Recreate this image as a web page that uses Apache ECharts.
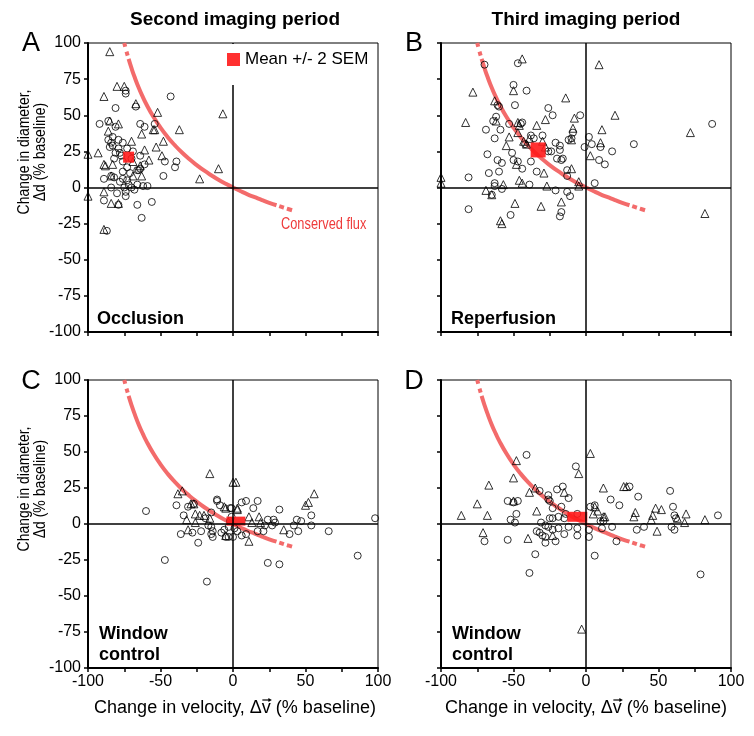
<!DOCTYPE html>
<html><head><meta charset="utf-8">
<script src="https://cdn.jsdelivr.net/npm/echarts@6/dist/echarts.min.js"></script>
<style>html,body{margin:0;padding:0;background:#fff}#c{width:754px;height:736px}</style>
</head><body><div id="c"></div>
<script>
// ---------- DATA ----------
const panelLetters = ['A','B','C','D'];
const columnTitles = ['Second imaging period','Third imaging period'];
const panelNames = ['Occlusion','Reperfusion','Window\ncontrol','Window\ncontrol'];
const yTicks = [-100,-75,-50,-25,0,25,50,75,100];
const xTicksLabelled = [-100,-50,0,50,100];
const legendLabel = 'Mean +/- 2 SEM';
const curveLabel = 'Conserved flux';
const yName = 'Change in diameter,\n\u0394d (% baseline)';
const xNameParts = ['Change in velocity, \u0394', 'v', ' (% baseline)'];

// Panel A: occlusion, second imaging period
const trianglesA = [[-85,94],[-80,70],[-75,70],[-89,63],[-67,58],[-52,52],[-7,51],[-85,46],[-79,44],[-55,40],[-54,40],[-37,40],[-86,39],[-63,37],[-48,32],[-53,28],[-70,32],[-61,26],[-93,24],[-100,23],[-49,22],[-58,19],[-69,18],[-89,16],[-88,15],[-83,16],[-64,15],[-10,13],[-63,8],[-23,6],[-69,8],[-84,8],[-89,-3],[-100,-6],[-84,-11],[-79,-11],[-89,-29]];
const circlesA = [[-43,63],[-74,67],[-74,65],[-67,56],[-81,55],[-92,44],[-86,46],[-81,42],[-64,44],[-61,42],[-54,44],[-86,33],[-84,31],[-83,29],[-85,28],[-79,27],[-76,31],[-78,24],[-73,27],[-69,25],[-81,24],[-77,22],[-64,22],[-61,16],[-64,13],[-73,14],[-76,11],[-71,10],[-39,18],[-40,14],[-47,18],[-48,8],[-66,12],[-65,12],[-84,8],[-82,7],[-89,6],[-84,0],[-76,6],[-73,5],[-72,2],[-75,0],[-70,0],[-66,2],[-62,1],[-59,1],[-68,-1.5],[-89,-9],[-80,-4],[-74,-6],[-79,-12],[-66,-12],[-56,-10],[-63,-21],[-87,-30],[-83,35],[-79,33],[-82,20],[-76,18],[-70,20],[-78,4],[-74,-3]];
const meanA = [-72,21];

// Panel B: reperfusion, third imaging period
const trianglesB = [[-44,89],[-50,67],[-78,66],[-63,60],[-14,62],[-83,45],[-62,46],[-47,45],[-46,43],[-28,47],[-8,48],[-9,41],[-34,43],[-53,35],[-47,38],[-39,34],[-55,29],[-43,32],[-41,30],[-30,32],[-28,28],[-48,16],[-29,10],[-10,13],[-46,5],[-44,3],[-100,7],[-100,3],[-69,-2],[-65,-5],[-57,2],[-27,1],[-49,-11],[-31,-13],[-17,-10],[-59,-23],[-58,-25],[-5,4],[9,85],[20,50],[11,40],[-10,33],[10,31],[3,22],[72,38],[-5,1],[82,-18]];
const circlesB = [[-70,85],[-47,86],[-50,71],[-41,67],[-61,57],[-60,56],[-49,57],[-62,49],[-64,46],[-59,40],[-69,40],[-53,44],[-44,45],[-45,44],[-63,34],[-42,30],[-38,36],[-36,34],[-30,36],[-26,55],[-23,50],[-68,23],[-61,19],[-58,17],[-51,24],[-50,19],[-47,18],[-44,13],[-38,18],[-34,11],[-60,11],[-67,10],[-81,7],[-63,3],[-63,1],[-58,-1],[-65,-5],[-52,-19],[-81,-15],[-39,2],[-26,25],[-24,25],[-21,31],[-18,29],[-18,26],[-20,20],[-17,19],[-16,20],[-13,12],[-13,8],[-12,33],[-10,34],[-9,38],[-21,-2],[-13,-3],[-11,-6],[-17,-17],[-18,-20],[-4,50],[2,35],[-1,28],[4,30],[10,28],[18,25],[33,30],[9,19],[13,16],[6,3],[87,44]];
const meanB = [-33,26];

// Panel C: window control, second imaging period
const trianglesC = [[-16,35],[0,29],[2,29],[-38,21],[-35,23],[-29,14],[-27,14],[-26,7],[-23,6],[-20,6],[-16,4],[-6,12],[-5,11],[3,11],[-32,3],[-31,-4],[-26,1],[-5,-8],[56,21],[52,15],[50,13],[3,10],[18,5],[13,1],[19,1],[35,-4],[11,-12],[11,5]];
const circlesC = [[-60,9],[-47,-25],[-39,13],[-34,6],[-31,12],[-27,14],[-11,17],[-11,16],[-9,13],[-15,8],[-19,4],[-17,-1],[-15,-2],[-14,-5],[-15,-7],[-36,-7],[-28,-6],[-22,-5],[-24,-13],[-14,-9],[-8,-6],[-6,-4],[-3,-2],[-2,2],[-1,5],[-1,11],[-5,-9],[-3,-9],[0,-9],[-18,-40],[6,15],[9,16],[17,16],[14,11],[32,10],[-2,11],[54,6],[44,3],[47,2],[24,3],[28,3],[29,1],[42,-1],[54,-1],[27,-1],[22,-1],[39,-7],[45,-5],[66,-5],[17,-5],[21,-5],[9,-7],[98,4],[86,-22],[24,-27],[32,-28],[1,-3],[3,-5],[6,-8]];
const meanC = [2,2];

// Panel D: window control, third imaging period
const trianglesD = [[-48,44],[-50,32],[-67,27],[-75,14],[-86,6],[-68,6],[-50,16],[-39,22],[-35,25],[-34,9],[-15,22],[-23,-8],[-40,-10],[-71,-6],[-5,35],[3,49],[12,25],[26,26],[28,26],[8,9],[6,12],[5,7],[12,5],[13,5],[33,5],[34,8],[48,11],[52,10],[46,6],[45,3],[63,4],[69,7],[68,1],[82,3],[49,-5],[-3,-73]];
const circlesD = [[-41,48],[-7,40],[-32,23],[-54,16],[-50,15],[-47,16],[-26,20],[-26,17],[-25,16],[-20,24],[-16,26],[-12,18],[-23,11],[-17,12],[-25,4],[-23,4],[-48,7],[-52,3],[-49,1],[-31,1],[-28,-1],[-26,-2],[-23,-4],[-19,5],[-15,4],[-14,7],[-12,-2],[-34,-5],[-32,-6],[-30,-8],[-28,-9],[-28,-13],[-21,-12],[-19,-3],[-15,-7],[-54,-11],[-70,-12],[-35,-21],[-39,-34],[-6,-8],[-6,-3],[30,26],[36,19],[17,17],[23,13],[58,23],[60,12],[61,6],[62,4],[6,13],[3,12],[-6,7],[10,2],[12,2],[18,-2],[11,-3],[40,-2],[35,-4],[59,-2],[61,-4],[91,6],[2,-4],[2,-9],[21,-12],[6,-22],[79,-35]];
const meanD = [-6,5];

// Conserved-flux curve
const curveX = [-75,-74,-73,-72,-70,-68,-65,-62,-60,-55,-50,-45,-40,-35,-30,-25,-20,-15,-10,-5,0,5,10,15,20,25,30,33,36,38,41];
const curveY = [100,96.1,92.5,89.0,82.6,76.8,69.0,62.2,58.1,49.1,41.4,34.8,29.1,24.0,19.5,15.5,11.8,8.5,5.4,2.6,0,-2.4,-4.7,-6.7,-8.7,-10.6,-12.3,-13.3,-14.3,-14.9,-15.8];

// ---------- CHART ----------
const chart = echarts.init(document.getElementById('c'), null, {renderer:'canvas'});
const FONT = "'Liberation Sans',Arial,sans-serif";
const CURVE = '#f36b6b';
const MEANC = '#ff1a1a';

const grids = [
  {left:88, top:43, width:290, height:289},
  {left:441, top:43, width:290, height:289},
  {left:88, top:380, width:290, height:288},
  {left:441, top:380, width:290, height:288}
];
const tris = [trianglesA,trianglesB,trianglesC,trianglesD];
const circs = [circlesA,circlesB,circlesC,circlesD];
const means = [meanA,meanB,meanC,meanD];
const meanSizes = [[11,11],[15,15],[19,9],[20,10]];

const pts = (xs, ys, a, b) => xs.slice(a,b).map((x,i)=>[x, ys[a+i]]);
const curveTop = pts(curveX, curveY, 0, 4);
const curveMid = pts(curveX, curveY, 3, 27);
const curveBot = pts(curveX, curveY, 26, curveX.length);

const xAxes = [], yAxes = [], series = [];
grids.forEach((g,i)=>{
  const bottomRow = i >= 2, leftCol = i % 2 === 0;
  xAxes.push({gridIndex:i, type:'value', min:-100, max:100, interval:25,
    axisLine:{show:true, onZero:false, lineStyle:{color:'#000', width:2}},
    axisTick:{show:true, inside:false, length:4, lineStyle:{color:'#000', width:1.5}},
    axisLabel:{show:bottomRow, margin:6, color:'#000', fontSize:16, fontFamily:FONT,
      formatter: v => (xTicksLabelled.indexOf(v) >= 0 ? String(v) : '')},
    splitLine:{show:false}});
  yAxes.push({gridIndex:i, type:'value', min:-100, max:100, interval:25,
    axisLine:{show:true, onZero:false, lineStyle:{color:'#000', width:2}},
    axisTick:{show:true, inside:false, length:4, lineStyle:{color:'#000', width:1.5}},
    axisLabel:{show:leftCol, margin:7, color:'#000', fontSize:16, fontFamily:FONT,
      formatter: v => (yTicks.indexOf(v) >= 0 ? String(v) : '')},
    splitLine:{show:false}});
  const lineBase = {type:'line', xAxisIndex:i, yAxisIndex:i, showSymbol:false, smooth:true, silent:true, z:2};
  series.push(Object.assign({}, lineBase, {name:'flux'+i, data:curveMid,
    lineStyle:{color:CURVE, width:4, cap:'butt'},
    markLine:{silent:true, symbol:['none','none'], label:{show:false},
      lineStyle:{color:'#000', width:1.5, type:'solid'},
      data:[{xAxis:0},{yAxis:0}], animation:false}}));
  series.push(Object.assign({}, lineBase, {name:'fluxTop'+i, data:curveTop,
    lineStyle:{color:CURVE, width:4, type:[4,5], cap:'butt'}}));
  series.push(Object.assign({}, lineBase, {name:'fluxBot'+i, data:curveBot,
    lineStyle:{color:CURVE, width:4, type:[5,3], dashOffset:5, cap:'butt'}}));
  series.push({type:'scatter', name:'tri'+i, xAxisIndex:i, yAxisIndex:i, data:tris[i],
    symbol:'triangle', symbolSize:8, clip:false, z:3,
    itemStyle:{color:'rgba(0,0,0,0)', borderColor:'#000', borderWidth:1}});
  series.push({type:'scatter', name:'circ'+i, xAxisIndex:i, yAxisIndex:i, data:circs[i],
    symbol:'circle', symbolSize:7, clip:false, z:3,
    itemStyle:{color:'rgba(0,0,0,0)', borderColor:'#000', borderWidth:1}});
  series.push({type:'scatter', name:legendLabel, xAxisIndex:i, yAxisIndex:i, data:[means[i]],
    symbol:'rect', symbolSize:meanSizes[i], z:4,
    itemStyle:{color:MEANC, opacity:0.9}});
});

const texts = [];
const txt = (o) => texts.push(Object.assign({type:'text', silent:true}, o));
// column titles
txt({style:{text:columnTitles[0], x:235, y:20, align:'center', verticalAlign:'middle', font:"bold 19px "+FONT, fill:'#000'}});
txt({style:{text:columnTitles[1], x:586, y:20, align:'center', verticalAlign:'middle', font:"bold 19px "+FONT, fill:'#000'}});
// panel letters
const letterPos = [[31,44],[414,44],[31,382],[414,382]];
panelLetters.forEach((l,i)=>txt({style:{text:l, x:letterPos[i][0], y:letterPos[i][1], align:'center', verticalAlign:'middle', font:"27px "+FONT, fill:'#000'}}));
// panel names
txt({style:{text:panelNames[0], x:97, y:319, align:'left', verticalAlign:'middle', font:"bold 18px "+FONT, fill:'#000'}});
txt({style:{text:panelNames[1], x:451, y:319, align:'left', verticalAlign:'middle', font:"bold 18px "+FONT, fill:'#000'}});
txt({style:{text:panelNames[2], x:99, y:645, align:'left', verticalAlign:'middle', font:"bold 18px "+FONT, fill:'#000', lineHeight:21}});
txt({style:{text:panelNames[3], x:452, y:645, align:'left', verticalAlign:'middle', font:"bold 18px "+FONT, fill:'#000', lineHeight:21}});
// curve label (slightly condensed)
txt({x:281, y:225, scaleX:0.8, style:{text:curveLabel, x:0, y:0, align:'left', verticalAlign:'middle', font:"16px "+FONT, fill:'#ee3b3b'}});
// y-axis names (condensed)
[[32,152],[32,489]].forEach(p=>txt({x:p[0], y:p[1], rotation:Math.PI/2, scaleX:0.82,
  style:{text:yName, x:0, y:0, align:'center', verticalAlign:'middle', font:"17px "+FONT, fill:'#000', lineHeight:16}}));
// x-axis names with vector arrow over v
const XF = "18px "+FONT;
const mctx = document.createElement('canvas').getContext('2d');
mctx.font = XF;
const wPre = mctx.measureText(xNameParts[0]).width;
const wV = mctx.measureText(xNameParts[1]).width;
const wAll = mctx.measureText(xNameParts.join('')).width;
[235,586].forEach(x=>{
  txt({style:{text:xNameParts.join(''), x:x, y:708, align:'center', verticalAlign:'middle', font:XF, fill:'#000'}});
  const vc = x - wAll/2 + wPre + wV/2;
  texts.push({type:'line', silent:true, shape:{x1:vc-4, y1:700, x2:vc+3, y2:700}, style:{stroke:'#000', lineWidth:1.2}});
  texts.push({type:'polygon', silent:true, shape:{points:[[vc+5.5,700],[vc+2,698],[vc+2,702]]}, style:{fill:'#000'}});
});

chart.setOption({
  animation:false,
  backgroundColor:'#fff',
  grid: grids.map(g=>Object.assign({show:true, borderColor:'#000', borderWidth:1, backgroundColor:'rgba(0,0,0,0)', containLabel:false, outerBoundsMode:'none'}, g)),
  xAxis:xAxes, yAxis:yAxes,
  legend:{data:[{name:legendLabel, icon:'rect'}], left:222, top:44, orient:'horizontal',
    itemWidth:13, itemHeight:13, itemGap:6,
    padding:[7,8,17,5], backgroundColor:'#fff',
    textStyle:{color:'#000', fontSize:17, fontFamily:FONT}, selectedMode:false, z:10},
  graphic:{elements:texts},
  series:series
});
</script>
</body></html>
